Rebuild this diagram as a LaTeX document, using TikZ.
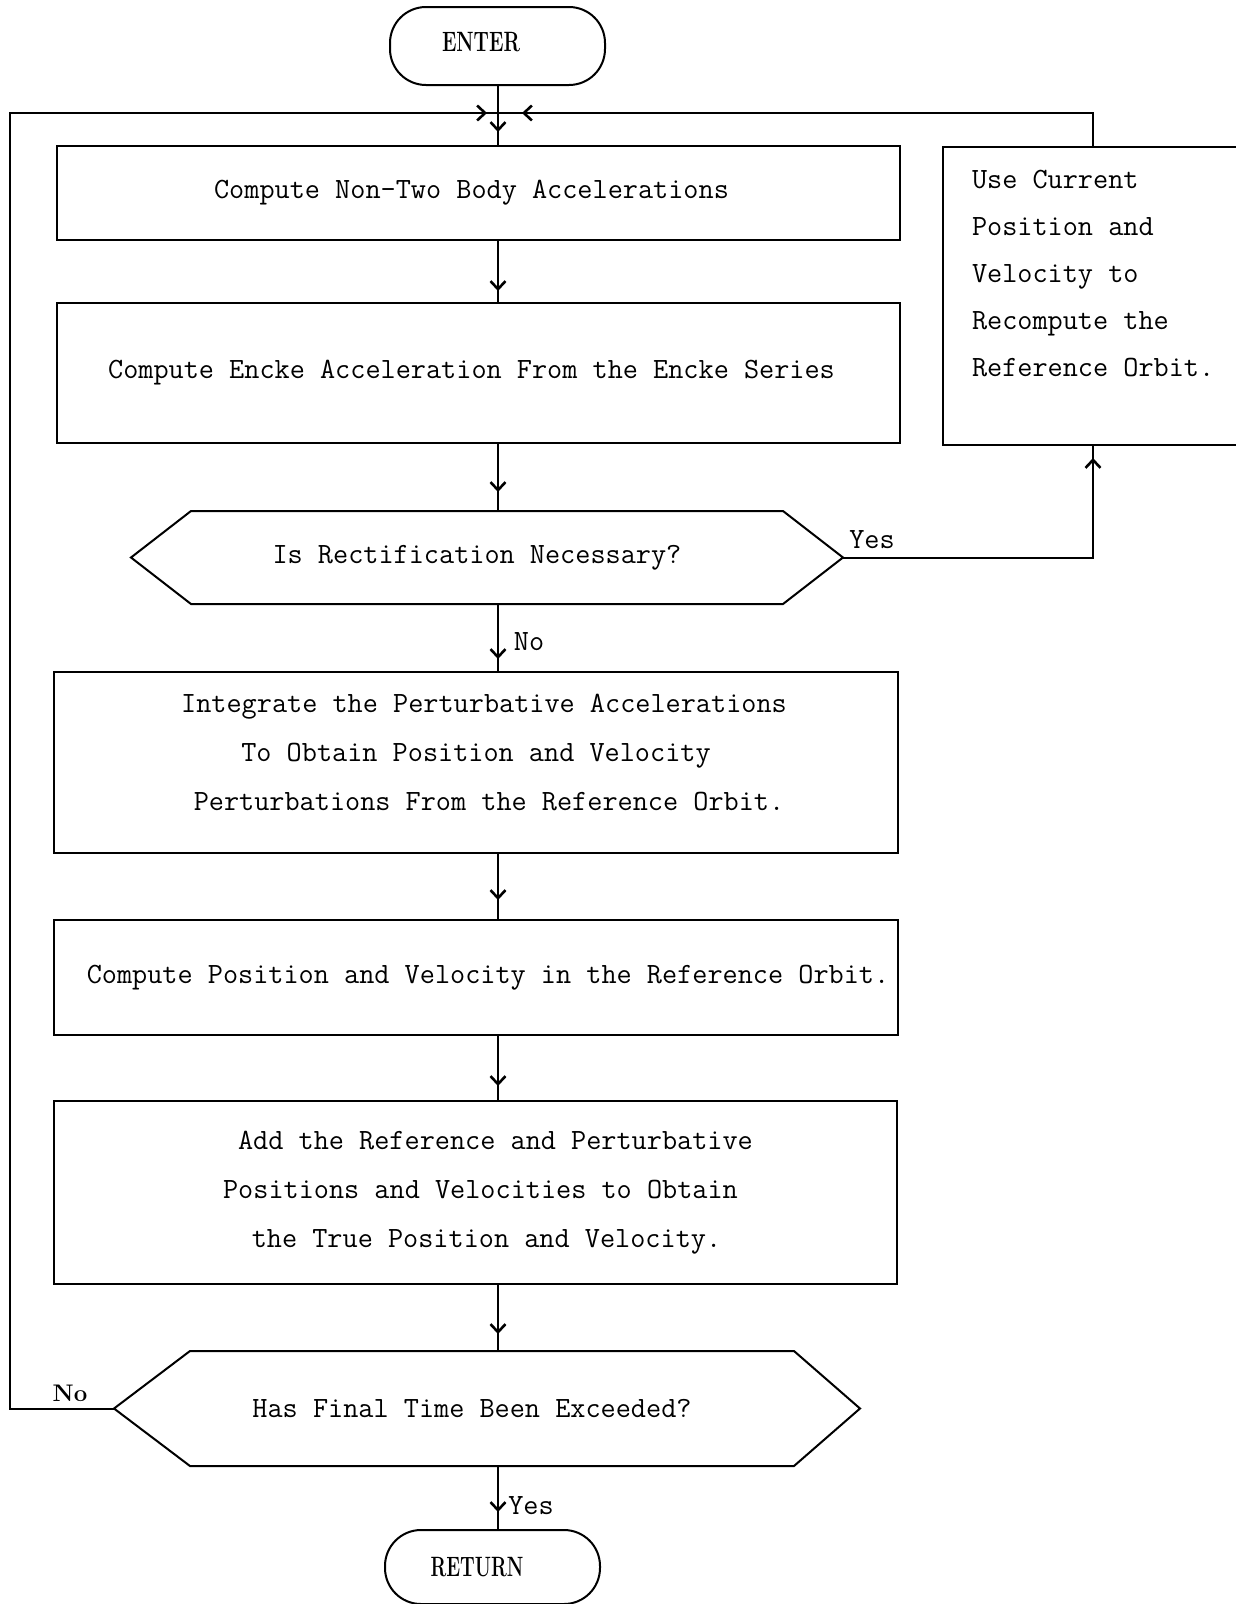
\documentclass[tikz,border=0pt]{standalone}
\usepackage{fontspec}
\usetikzlibrary{arrows.meta,decorations.markings,calc}
\newcommand\twfont[1]{\ttfamily\fontsize{29.4}{#1}\selectfont}
\newcommand\romfont{\rmfamily\bfseries\fontsize{28}{28}\selectfont}
\newcommand\nofont{\rmfamily\bfseries\fontsize{24}{24}\selectfont}
\begin{document}
\begin{tikzpicture}[x=1pt,y=-1pt,
  line width=2pt,
  box/.style={draw, rectangle, inner sep=0pt, align=center, font=\twfont{49}},
  hexnode/.style={rectangle, inner sep=0pt, font=\twfont{49}},
  term/.style={draw, rounded corners=36pt, inner sep=0pt, font=\romfont},
  lbl/.style={inner sep=0pt, font=\twfont{30}},
  flow/.style={postaction={decorate}, decoration={markings,
     mark=at position -#1 with {\arrow{Straight Barb[length=8pt,width=15pt,line width=2.6pt]}}}},
  flow/.default=14pt]
\useasboundingbox (0,0) rectangle (1235,1604);

% terminals
\node[term, minimum width=215, minimum height=78] (enter) at (497.5,46) {\raisebox{8pt}{\hspace*{-33pt}\scalebox{0.7}[1]{ENTER}}};
\node[term, minimum width=215, minimum height=74] (ret) at (492.5,1567) {\hspace*{-31pt}\scalebox{0.67}[1]{RETURN}};

% process boxes
\node[box, minimum width=843, minimum height=94] (b1) at (478.5,193) {\hspace*{-14pt}Compute Non-Two Body Accelerations};
\node[box, minimum width=843, minimum height=140] (b2) at (478.5,373) {\raisebox{-4pt}{\hspace*{-14pt}Compute Encke Acceleration From the Encke Series}};
\node[box, minimum width=844, minimum height=181] (b3) at (476,762.5) {\hspace*{16pt}Integrate the Perturbative Accelerations\\To Obtain Position and Velocity\\\hspace*{26pt}Perturbations From the Reference Orbit.\\[-29pt]};
\node[box, minimum width=844, minimum height=115] (b4) at (476,977.5) {\raisebox{-5pt}{\hspace*{24pt}Compute Position and Velocity in the Reference Orbit.}};
\node[box, minimum width=843, minimum height=183] (b5) at (475.5,1192.5) {\twfont{53}\hspace*{40pt}Add the Reference and Perturbative\\\hspace*{10pt}Positions and Velocities to Obtain\\\hspace*{22pt}the True Position and Velocity.};

% right box (open at the page edge)
\node[draw, rectangle, inner sep=0pt, minimum width=297, minimum height=298] (rbox) at (1091.5,296) {};
\node[lbl, anchor=north west, align=left, font=\twfont{47}] (rtext) at (971,169) {Use Current\\Position and\\Velocity to\\Recompute the\\Reference Orbit.};

% decisions
\node[hexnode, minimum width=710, minimum height=91] (d1) at (487,557.5) {\hspace*{-20pt}Is Rectification Necessary?};
\draw (d1.west) -- ([xshift=60pt]d1.north west) -- ([xshift=-60pt]d1.north east) -- (d1.east)
      -- ([xshift=-60pt]d1.south east) -- ([xshift=60pt]d1.south west) -- cycle;
\node[hexnode, minimum width=744, minimum height=113] (d2) at (487,1408.5) {\hspace*{-30pt}Has Final Time Been Exceeded?};
\draw (d2.west) -- ([xshift=76pt]d2.north west) -- ([xshift=-66pt]d2.north east) -- (d2.east)
      -- ([xshift=-66pt]d2.south east) -- ([xshift=76pt]d2.south west) -- cycle;

% helper coordinates
\coordinate (col) at (498,0);
\coordinate (j) at (498,113);
\coordinate (lx) at (10,113);
\coordinate (rtop) at ([xshift=151pt]rbox.north west);
\coordinate (rbot) at ([xshift=151pt]rbox.south west);

% connectors
\draw (col |- enter.south) -- (j);
\draw[flow=13pt] (j) -- (col |- b1.north);
\draw[flow=11pt] (col |- b1.south) -- (col |- b2.north);
\draw[flow=19pt] (col |- b2.south) -- (col |- d1.north);
\draw[flow=12pt] (col |- d1.south) -- (col |- b3.north);
\draw[flow=19pt] (col |- b3.south) -- (col |- b4.north);
\draw[flow=14pt] (col |- b4.south) -- (col |- b5.north);
\draw[flow=17pt] (col |- b5.south) -- (col |- d2.north);
\draw[flow=17pt] (col |- d2.south) -- (col |- ret.north);
\draw[flow=12pt] (d1.east) -| (rbot);
\draw[flow=11pt] (d2.west) -| (lx) -- (j);
\draw[flow=24pt] (rtop) |- (j);

% labels
\node[lbl] (yes1) at (872,540) {Yes};
\node[lbl] (no1) at (529,642) {No};
\node[inner sep=0pt, font=\nofont] (no2) at (70,1393) {No};
\node[lbl] (yes2) at (531,1506) {Yes};
\end{tikzpicture}
\end{document}
